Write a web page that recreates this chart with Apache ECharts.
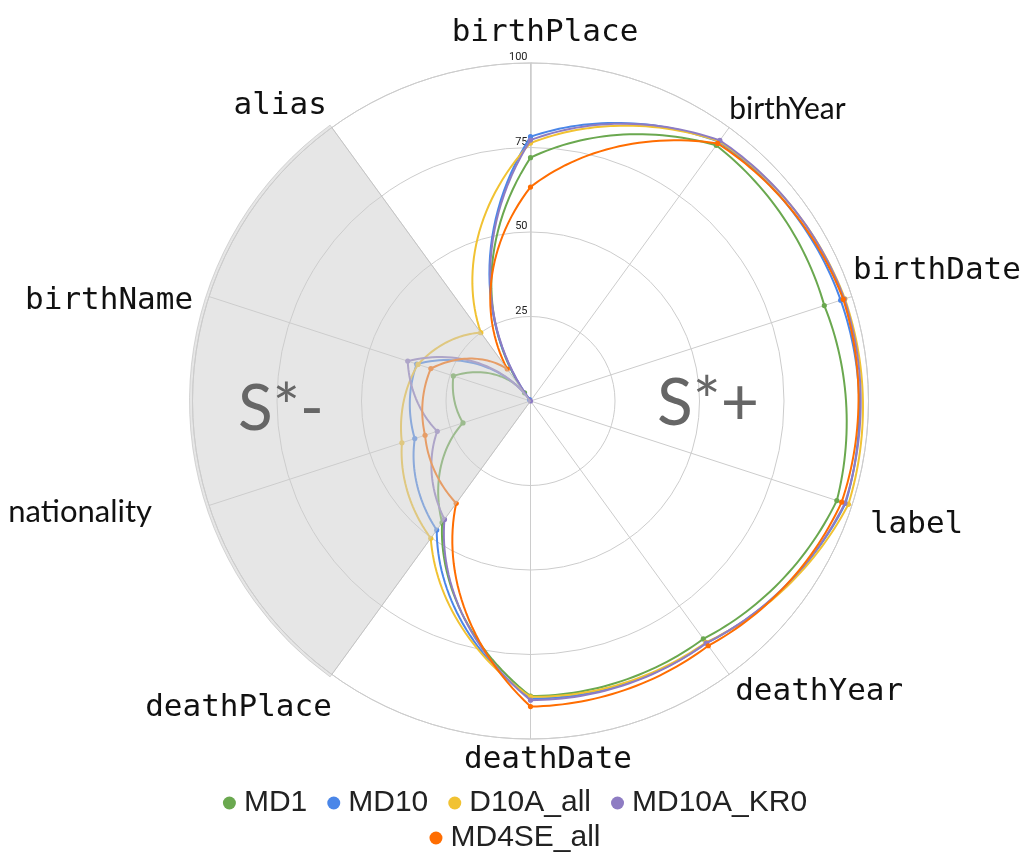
<!DOCTYPE html>
<html>
<head>
<meta charset="utf-8">
<script src="https://cdn.jsdelivr.net/npm/echarts@6/dist/echarts.min.js"></script>
<style>
  html, body { margin: 0; padding: 0; background: #fff; }
  #chart { width: 1030px; height: 855px; }
</style>
</head>
<body>
<div id="chart"></div>
<script>
// radar axes, clockwise from the top
const categories = ["birthPlace", "birthYear", "birthDate", "label", "deathYear",
  "deathDate", "deathPlace", "nationality", "birthName", "alias"];
const ringTicks = [0, 25, 50, 75, 100];

const seriesNames = ["MD1", "MD10", "D10A_all", "MD10A_KR0", "MD4SE_all"];
const colors = ["#6aa84f", "#4a86e8", "#f1c232", "#8e7cc3", "#ff6d01"];

const md1 = [72, 93.5, 91.4, 95.3, 87, 87.3, 44.5, 21, 24, 3];
const md10 = [78.2, 94.8, 96.5, 98, 88.5, 88, 47.2, 36, 35.4, 0.5];
const d10aAll = [76.3, 95, 97.8, 98.9, 88.3, 87.5, 50.2, 40, 35, 25];
const md10aKr0 = [77.2, 95.3, 97.6, 97.8, 88.5, 88.5, 43.3, 29, 38.2, 0];
const md4seAll = [63.3, 94.2, 97.3, 96.8, 89.5, 90.4, 37.4, 32.8, 31, 11.7];

const allValues = [md1, md10, d10aAll, md10aKr0, md4seAll];

// shaded "S*-" side: alias -> deathPlace (3 of 10 spokes)
const shadedSpan = [3, 7];

// axis name styling (two of them fell back to a proportional font in the original)
const mono = { fontFamily: "DejaVu Sans Mono", fontSize: 31, lineHeight: 32, color: "#111" };
const sans = { fontFamily: "Lato", fontSize: 31, lineHeight: 32, color: "#111" };
const nameStyles = [
  { ...mono, padding: [0, 0, 29, 29] },
  { ...sans, fontSize: 30, padding: [0, 0, 5, 0] },
  { ...mono, padding: [0, 0, 20, 1] },
  { ...mono, padding: [8, 0, 0, 18] },
  { ...mono, padding: [4, 0, 0, 6] },
  { ...mono, padding: [10, 0, 0, 35] },
  { ...mono, padding: [36, 0, 0, 2] },
  { ...sans, lineHeight: 14, padding: [0, 57, 0, 0] },
  { ...mono, lineHeight: 4, padding: [0, 16, -12, 0] },
  { ...mono, padding: [0, 5, 12, 0] },
];
const rich = {};
nameStyles.forEach((s, i) => { rich["n" + i] = s; });

const chart = echarts.init(document.getElementById("chart"));

// each segment follows the polar scale between two neighbouring axes
const makeRender = (values, color) => (params, api) => {
  const i = params.dataIndex;
  const r0 = api.value(0);
  const a0 = api.value(1);
  const r1 = values[(i + 1) % values.length];
  const pts = [];
  const steps = 30;
  for (let k = 0; k <= steps; k++) {
    const t = k / steps;
    pts.push(api.coord([r0 + (r1 - r0) * t, a0 + t]));
  }
  const c = api.coord([r0, a0]);
  return {
    type: "group",
    children: [
      { type: "polyline", shape: { points: pts }, style: { stroke: color, lineWidth: 2, fill: null } },
      { type: "circle", shape: { cx: c[0], cy: c[1], r: 2.6 }, style: { fill: color } },
    ],
  };
};

const lineSeries = seriesNames.map((name, s) => ({
  name,
  type: "custom",
  coordinateSystem: "polar",
  itemStyle: { color: colors[s] },
  z: 2,
  silent: true,
  renderItem: makeRender(allValues[s], colors[s]),
  data: allValues[s].map((v, i) => [v, i]),
}));

const legendBase = {
  left: "center",
  icon: "circle",
  itemWidth: 13,
  itemHeight: 13,
  itemGap: 20,
  textStyle: { fontFamily: "Liberation Sans", fontSize: 30, color: "#222", padding: [0, 0, 0, 3] },
};

chart.setOption({
  animation: false,
  polar: { center: [530.5, 401], radius: 338 },
  angleAxis: {
    type: "value",
    min: 0,
    max: categories.length,
    interval: 1,
    startAngle: 90,
    clockwise: true,
    axisLine: { show: true, lineStyle: { color: "#cccccc", width: 1 } },
    axisTick: { show: false },
    splitLine: { show: true, lineStyle: { color: "#cccccc", width: 1 } },
    axisLabel: {
      margin: 0,
      formatter: (v) => (categories[v] ? "{n" + v + "|" + categories[v] + "}" : ""),
      rich,
    },
  },
  radiusAxis: {
    type: "value",
    min: ringTicks[0],
    max: ringTicks[ringTicks.length - 1],
    interval: 25,
    axisLine: { show: true, lineStyle: { color: "#cccccc", width: 1.5 } },
    axisTick: { show: false },
    splitLine: { show: true, lineStyle: { color: "#cccccc", width: 1 } },
    axisLabel: {
      formatter: (v) => (v === 0 ? "" : String(v)),
      fontFamily: "Roboto",
      fontSize: 11,
      color: "#222",
      margin: 3,
      verticalAlign: "bottom",
    },
  },
  legend: [
    { ...legendBase, data: seriesNames.slice(0, 4), top: 783 },
    { ...legendBase, data: seriesNames.slice(4), top: 818 },
  ],
  graphic: [
    {
      type: "text",
      left: 238,
      top: 377,
      z: 20,
      style: { text: "S*-", fontFamily: "Lato", fontSize: 64, fill: "#666" },
    },
    {
      type: "text",
      left: 657,
      top: 371,
      z: 20,
      style: { text: "S*+", fontFamily: "Lato", fontSize: 66, fill: "#666" },
    },
  ],
  series: [
    ...lineSeries,
    {
      name: "shade",
      type: "pie",
      center: [530.5, 401],
      radius: 341,
      startAngle: 126,
      clockwise: false,
      silent: true,
      z: 5,
      label: { show: false },
      labelLine: { show: false },
      emphasis: { disabled: true },
      data: [
        { value: shadedSpan[0], itemStyle: { color: "rgba(205,205,205,0.5)", borderColor: "rgba(190,190,190,0.6)", borderWidth: 1 } },
        { value: shadedSpan[1], itemStyle: { color: "rgba(0,0,0,0)" } },
      ],
    },
  ],
});
</script>
</body>
</html>
